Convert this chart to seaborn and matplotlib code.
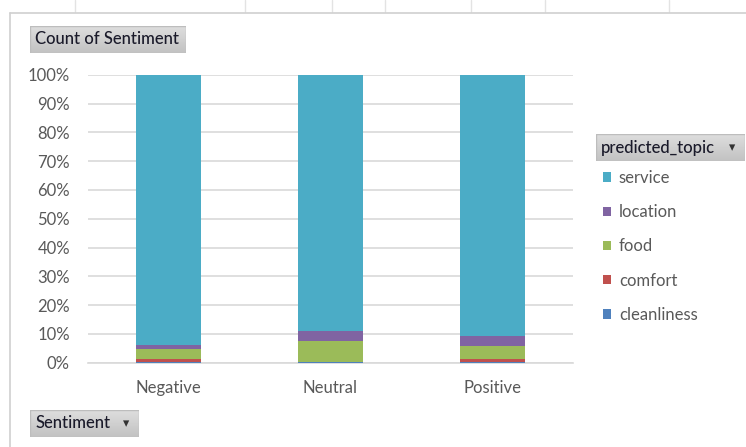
import numpy as np
import pandas as pd
import matplotlib
matplotlib.use("Agg")
import matplotlib.pyplot as plt
import seaborn as sns
from matplotlib.lines import Line2D
from matplotlib.patches import Rectangle

# Share of each predicted topic within every sentiment class (percent)
sentiments = ["Negative", "Neutral", "Positive"]
topics = ["cleanliness", "comfort", "food", "location", "service"]  # bottom -> top
cleanliness = [0.2, 0.3, 0.2]
comfort = [1.2, 0.0, 1.2]
food = [3.2, 7.2, 4.3]
location = [1.5, 3.5, 3.7]
service = [93.9, 89.0, 90.6]

ytick_labels = ["0%", "10%", "20%", "30%", "40%", "50%", "60%", "70%", "80%", "90%", "100%"]

colors = {
    "service": "#4BACC6",
    "location": "#8064A2",
    "food": "#9BBB59",
    "comfort": "#C0504D",
    "cleanliness": "#4F81BD",
}

sns.set_theme(style="white")
plt.rcParams["font.family"] = ["Lato", "DejaVu Sans"]

W, H = 746, 447
fig = plt.figure(figsize=(W / 100, H / 100), dpi=100)
fig.patch.set_facecolor("white")


def fx(px):
    return px / W


def fy(py):
    return 1 - py / H


ax = fig.add_axes([fx(88), fy(362.7), (573 - 88) / W, 288 / H])

df = pd.DataFrame({
    "Sentiment": sentiments,
    "cleanliness": cleanliness,
    "comfort": comfort,
    "food": food,
    "location": location,
    "service": service,
})
values = df[topics].to_numpy() / 100.0
cum = np.cumsum(values, axis=1)

# Stacked columns: draw cumulative totals from the top layer downwards
for i in range(len(topics) - 1, -1, -1):
    name = topics[i]
    sns.barplot(x=df["Sentiment"], y=cum[:, i], color=colors[name],
                width=0.4, label=name, ax=ax, saturation=1, zorder=3,
                linewidth=0)

ax.set_xlim(-0.5, 2.5)
ax.set_ylim(0, 1.0)
ax.set_yticks(np.linspace(0, 1, 11))
ax.set_yticklabels(ytick_labels)
ax.set_xlabel("")
ax.set_ylabel("")
ax.grid(axis="y", color="#D9D9D9", linewidth=1.2, zorder=0)
ax.grid(axis="x", visible=False)
for s in ["top", "right", "left"]:
    ax.spines[s].set_visible(False)
ax.spines["bottom"].set_color("#D9D9D9")
ax.spines["bottom"].set_linewidth(1.2)
ax.tick_params(axis="both", length=0, labelsize=12, colors="#595959")
ax.tick_params(axis="y", pad=13)
ax.tick_params(axis="x", pad=12.5)

leg = ax.legend(loc="upper left", bbox_to_anchor=(fx(603), fy(170)),
                bbox_transform=fig.transFigure, frameon=False,
                fontsize=12, handlelength=0.5, handleheight=0.5,
                handletextpad=0.45, labelspacing=1.09, borderpad=0,
                borderaxespad=0)
for t in leg.get_texts():
    t.set_color("#595959")

# Sheet cell lines above the chart area and the chart border
for xp in [75, 245, 332, 385, 471, 545, 669]:
    fig.add_artist(Line2D([fx(xp), fx(xp)], [fy(0), fy(12)], color="#E3E3E3", lw=1))
fig.add_artist(Line2D([fx(10), fx(746)], [fy(13), fy(13)], color="#D0D0D0", lw=1.2))
fig.add_artist(Line2D([fx(10), fx(10)], [fy(13), fy(447)], color="#D0D0D0", lw=1.2))


def field_button(x0, y0, x1, y1, label, arrow=False):
    bax = fig.add_axes([fx(x0), fy(y1), (x1 - x0) / W, (y1 - y0) / H])
    grad = np.linspace(0.87, 0.76, 64).reshape(-1, 1)
    bax.imshow(grad, cmap="gray", vmin=0, vmax=1, aspect="auto",
               extent=(0, 1, 0, 1), origin="upper")
    bax.add_patch(Rectangle((0, 0), 1, 1, fill=False, edgecolor="#BDBDBD",
                            lw=1, transform=bax.transAxes))
    bax.set_axis_off()
    bax.set_xlim(0, 1)
    bax.set_ylim(0, 1)
    fig.text(fx(x0 + 5), fy((y0 + y1) / 2), label, ha="left", va="center",
             fontsize=12, color="#1A1A2A", fontweight="medium")
    if arrow:
        fig.text(fx(x1 - 13), fy((y0 + y1) / 2), "\u25BE", ha="center",
                 va="center", fontsize=9, color="#333333",
                 family=["DejaVu Sans"])


field_button(30, 26, 186, 53, "Count of Sentiment")
field_button(596, 134, 745, 161, "predicted_topic", arrow=True)
field_button(30, 410, 139, 437, "Sentiment", arrow=True)

fig.savefig("out.png", dpi=100)
